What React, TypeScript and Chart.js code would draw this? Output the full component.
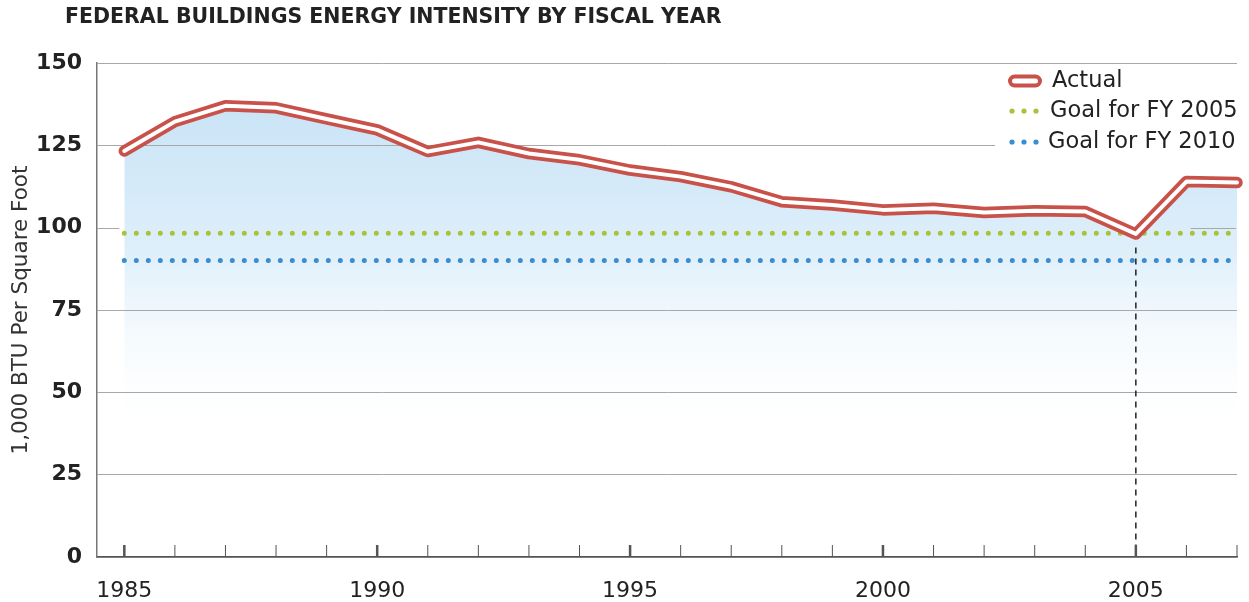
import React, { useEffect, useRef } from 'react';
import { Chart, registerables } from 'chart.js';

Chart.register(...registerables);

const years = [1985, 1986, 1987, 1988, 1989, 1990, 1991, 1992, 1993, 1994, 1995, 1996, 1997, 1998, 1999, 2000, 2001, 2002, 2003, 2004, 2005, 2006, 2007];
const actual = [123.3, 132.2, 137.0, 136.4, 133.0, 129.7, 123.1, 125.9, 122.5, 120.6, 117.5, 115.5, 112.4, 107.9, 106.9, 105.4, 105.9, 104.6, 105.1, 104.9, 98.1, 114.0, 113.7];
const goalYears = [1985, 2007];
const goal2005 = [98.3, 98.3];
const goal2010 = [90, 90];
const yTicks = [0, 25, 50, 75, 100, 125, 150];
const xLabelYears = [1985, 1990, 1995, 2000, 2005];
const markerYear = 2005;
const legendLabels = ['Actual', 'Goal for FY 2005', 'Goal for FY 2010'];
const titleText = 'FEDERAL BUILDINGS ENERGY INTENSITY BY FISCAL YEAR';
const yTitle = '1,000 BTU Per Square Foot';
const hiddenGridValue = 100;

const RED = '#c8524a';
const GREEN = '#a8c23c';
const BLUE = '#3b8dd0';
const GRID = '#a8a8a8';
const FONT = '"DejaVu Sans", sans-serif';

const extrasPlugin = {
  id: 'extras',
  beforeDatasetsDraw(chart: any) {
    const { ctx, chartArea, scales } = chart;
    const xs = scales.x;
    const yv = Math.round(scales.y.getPixelForValue(hiddenGridValue)) + 0.5;
    ctx.save();
    ctx.strokeStyle = GRID;
    ctx.lineWidth = 1;
    ctx.beginPath();
    ctx.moveTo(chartArea.left, yv);
    ctx.lineTo(xs.getPixelForValue(1984.9), yv);
    ctx.moveTo(xs.getPixelForValue(2006.08), yv);
    ctx.lineTo(xs.getPixelForValue(2006.98), yv);
    ctx.stroke();
    ctx.restore();
  },
  afterDatasetsDraw(chart: any) {
    const { ctx, chartArea, scales } = chart;
    const xs = scales.x;
    const ys = scales.y;
    ctx.save();
    // dashed marker line
    const mx = xs.getPixelForValue(markerYear);
    ctx.strokeStyle = '#222';
    ctx.lineWidth = 1.5;
    ctx.setLineDash([6, 5]);
    ctx.beginPath();
    ctx.moveTo(mx, ys.getPixelForValue(94));
    ctx.lineTo(mx, chartArea.bottom);
    ctx.stroke();
    ctx.setLineDash([]);
    // x tick marks
    ctx.strokeStyle = '#555';
    years.forEach((yr) => {
      const px = xs.getPixelForValue(yr);
      const major = yr % 5 === 0;
      ctx.lineWidth = major ? 2.5 : 1;
      ctx.beginPath();
      ctx.moveTo(px, chartArea.bottom);
      ctx.lineTo(px, chartArea.bottom - 12);
      ctx.stroke();
    });
    ctx.restore();
  },
  afterDraw(chart: any) {
    const { ctx } = chart;
    ctx.save();
    // title
    ctx.fillStyle = '#222';
    ctx.font = `bold 20.5px ${FONT}`;
    ctx.textBaseline = 'middle';
    ctx.textAlign = 'left';
    ctx.fillText(titleText, 65, 18);
    // legend
    ctx.fillStyle = '#fff';
    ctx.fillRect(995, 65, 254, 90);
    const rows = [81, 111, 142];
    ctx.font = `22.5px ${FONT}`;
    ctx.textBaseline = 'middle';
    // Actual icon
    ctx.strokeStyle = RED;
    ctx.lineWidth = 4;
    ctx.fillStyle = '#fff';
    ctx.beginPath();
    const ix = 1010, iw = 30, ih = 9, iy = rows[0] - ih / 2;
    ctx.moveTo(ix + ih / 2, iy);
    ctx.lineTo(ix + iw - ih / 2, iy);
    ctx.arc(ix + iw - ih / 2, iy + ih / 2, ih / 2, -Math.PI / 2, Math.PI / 2);
    ctx.lineTo(ix + ih / 2, iy + ih);
    ctx.arc(ix + ih / 2, iy + ih / 2, ih / 2, Math.PI / 2, Math.PI * 1.5);
    ctx.closePath();
    ctx.fill();
    ctx.stroke();
    // dots
    [GREEN, BLUE].forEach((c, k) => {
      ctx.fillStyle = c;
      for (let d = 0; d < 3; d++) {
        ctx.beginPath();
        ctx.arc(1012 + d * 12, rows[k + 1], 2.6, 0, Math.PI * 2);
        ctx.fill();
      }
    });
    ctx.fillStyle = '#222';
    ctx.fillText(legendLabels[0], 1052, rows[0]);
    ctx.fillText(legendLabels[1], 1050, rows[1]);
    ctx.fillText(legendLabels[2], 1048, rows[2]);
    ctx.restore();
  },
};

export default function App() {
  const ref = useRef<HTMLCanvasElement | null>(null);
  useEffect(() => {
    document.body.style.margin = '0';
    const canvas = ref.current;
    if (!canvas) return;
    const actualPts = years.map((x, i) => ({ x, y: actual[i] }));
    const chart = new Chart(canvas, {
      type: 'line',
      data: {
        datasets: [
          {
            label: 'Actual',
            data: actualPts,
            borderColor: RED,
            borderWidth: 11.5,
            fill: 'origin',
            clip: false,
            backgroundColor: (c: any) => {
              const ch = c.chart;
              if (!ch.chartArea) return 'rgba(210,233,248,1)';
              const ys = ch.scales.y;
              const g = ch.ctx.createLinearGradient(0, ys.getPixelForValue(140), 0, ys.getPixelForValue(35));
              g.addColorStop(0, 'rgba(200,227,246,1)');
              g.addColorStop(0.45, 'rgba(222,239,250,1)');
              g.addColorStop(1, 'rgba(255,255,255,0)');
              return g;
            },
            pointRadius: 0,
            borderJoinStyle: 'round',
            borderCapStyle: 'round',
            order: 1,
          },
          {
            label: 'ActualInner',
            data: actualPts,
            borderColor: '#ffffff',
            borderWidth: 4,
            fill: false,
            clip: false,
            pointRadius: 0,
            borderJoinStyle: 'round',
            borderCapStyle: 'round',
            order: 0,
          },
          {
            label: legendLabels[1],
            data: goalYears.map((x, i) => ({ x, y: goal2005[i] })),
            borderColor: GREEN,
            borderWidth: 5,
            borderDash: [0, 12],
            borderCapStyle: 'round',
            pointRadius: 0,
            fill: false,
            order: 2,
          },
          {
            label: legendLabels[2],
            data: goalYears.map((x, i) => ({ x, y: goal2010[i] })),
            borderColor: BLUE,
            borderWidth: 5,
            borderDash: [0, 12],
            borderCapStyle: 'round',
            pointRadius: 0,
            fill: false,
            order: 2,
          },
        ],
      },
      options: {
        responsive: false,
        animation: false,
        events: [],
        layout: { padding: { top: 63, right: 12, left: 0, bottom: 0 } },
        plugins: {
          legend: { display: false },
          tooltip: { enabled: false },
          filler: { drawTime: 'beforeDraw' },
        },
        scales: {
          x: {
            type: 'linear',
            min: 1984.46,
            max: 2007,
            afterBuildTicks: (s: any) => {
              s.ticks = years.map((v) => ({ value: v }));
            },
            afterFit: (s: any) => {
              s.height = 45;
              s.paddingLeft = 0;
              s.paddingRight = 0;
            },
            grid: { display: false, drawTicks: false },
            border: { display: true, color: '#555', width: 1.5 },
            ticks: {
              autoSkip: false,
              maxRotation: 0,
              padding: 21,
              color: '#222',
              font: { family: FONT, size: 22 },
              callback: (v: any) => (xLabelYears.includes(Number(v)) ? String(v) : ''),
            },
          },
          y: {
            min: 0,
            max: 150,
            afterBuildTicks: (s: any) => {
              s.ticks = yTicks.map((v) => ({ value: v }));
            },
            afterFit: (s: any) => {
              s.width = 97;
            },
            grid: {
              color: (c: any) => (c.tick && c.tick.value === hiddenGridValue ? 'rgba(0,0,0,0)' : GRID),
              lineWidth: 1,
              drawTicks: false,
            },
            border: { display: true, color: '#777', width: 1.5 },
            ticks: {
              padding: 15,
              color: '#222',
              font: { family: FONT, size: 22, weight: 'bold' },
            },
            title: {
              display: true,
              text: yTitle,
              color: '#333',
              font: { family: FONT, size: 21.5 },
              padding: { top: 9, bottom: 0 },
            },
          },
        },
      },
      plugins: [extrasPlugin],
    } as any);
    return () => chart.destroy();
  }, []);
  return (
    <div style={{ width: 1249, height: 602 }}>
      <canvas ref={ref} width={1249} height={602} style={{ display: 'block' }} />
    </div>
  );
}
